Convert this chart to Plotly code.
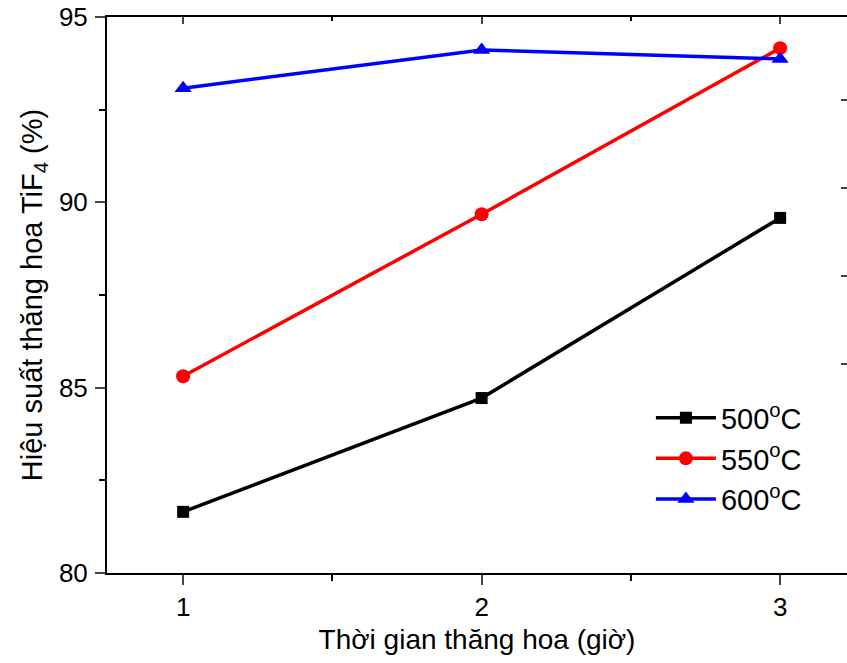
import plotly.graph_objects as go

hours = [1, 2, 3]
y500 = [81.65, 84.72, 89.58]
y550 = [85.31, 89.68, 94.16]
y600 = [93.08, 94.11, 93.87]
series_names = ["500<sup>o</sup>C", "550<sup>o</sup>C", "600<sup>o</sup>C"]
y_ticks = [80, 85, 90, 95]
x_ticks = [1, 2, 3]

FONT = "Liberation Sans"

fig = go.Figure()
styles = [
    dict(color="#000000", symbol="square", size=12),
    dict(color="#ff0000", symbol="circle", size=14),
    dict(color="#0000ff", symbol="triangle-up", size=15),
]
for name, ys, st in zip(series_names, [y500, y550, y600], styles):
    fig.add_trace(go.Scatter(
        x=hours, y=ys, mode="lines+markers", name=name,
        line=dict(color=st["color"], width=3.5),
        marker=dict(symbol=st["symbol"], size=st["size"], color=st["color"]),
    ))

# dummy trace to instantiate top axis (inward ticks)
fig.add_trace(go.Scatter(x=[hours[0]], y=[y500[0]], xaxis="x2", mode="none",
                         showlegend=False, hoverinfo="skip"))

xr = [0.745, 3.224]
fig.update_layout(
    width=847, height=663,
    margin=dict(l=107, r=0, t=17, b=90),
    plot_bgcolor="white", paper_bgcolor="white",
    font=dict(family=FONT, color="#000000", size=26),
    showlegend=True,
    legend=dict(x=0.735, y=0.325, xanchor="left", yanchor="top",
                font=dict(size=29, family=FONT, color="#000000"), bgcolor="rgba(0,0,0,0)",
                tracegroupgap=0, itemwidth=60),
    xaxis=dict(
        range=xr, tickvals=x_ticks, ticks="outside", ticklen=10, tickwidth=2,
        showline=True, linewidth=2, linecolor="black", mirror=False,
        showgrid=False, zeroline=False,
        tickfont=dict(size=26, family=FONT, color="#000000"),
        ticklabelstandoff=0,
        minor=dict(tickvals=[1.5, 2.5], ticks="outside", ticklen=6, tickwidth=2, tickcolor="black"),
        title=dict(text="Thời gian thăng hoa (giờ)", font=dict(size=28, family=FONT, color="#000000"), standoff=8),
    ),
    xaxis2=dict(
        range=xr, overlaying="x", side="top", tickvals=x_ticks, ticks="inside",
        ticklen=7, tickwidth=2, showticklabels=False, showline=True, linewidth=2,
        linecolor="black", showgrid=False, zeroline=False,
        minor=dict(tickvals=[1.5, 2.5], ticks="inside", ticklen=4, tickwidth=2, tickcolor="black"),
    ),
    yaxis=dict(
        range=[80, 95], tickvals=y_ticks, ticks="outside", ticklen=10, tickwidth=2,
        showline=True, linewidth=2, linecolor="black", mirror=False,
        showgrid=False, zeroline=False,
        tickfont=dict(size=26, family=FONT, color="#000000"),
        ticklabelstandoff=2,
        minor=dict(tickvals=[82.5, 87.5, 92.5], ticks="outside", ticklen=6, tickwidth=2, tickcolor="black"),
        title=dict(text="Hiệu suất thăng hoa TiF<sub>4</sub> (%)", font=dict(size=29, family=FONT, color="#000000"), standoff=8),
    ),
)

# stray right-edge tick marks seen in the reference
for py in [100, 188, 276, 364]:
    yp = (573 - py) / 556
    fig.add_shape(type="line", xref="paper", yref="paper",
                  x0=1 - 6 / 740, x1=1, y0=yp, y1=yp,
                  line=dict(color="black", width=1.5))

fig.write_html("out.html")
